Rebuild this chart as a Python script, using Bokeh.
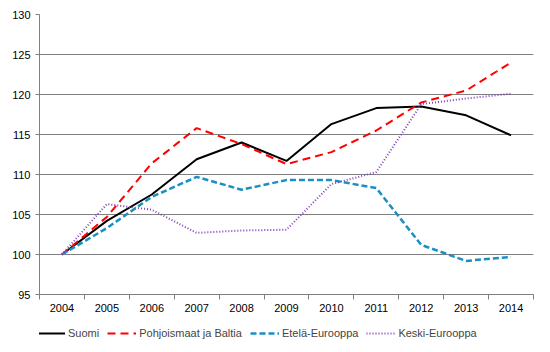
from bokeh.plotting import figure
from bokeh.models import FixedTicker, Range1d, Legend, LegendItem
from bokeh.layouts import column
from bokeh.embed import file_html
from bokeh.resources import INLINE

years = ["2004", "2005", "2006", "2007", "2008", "2009", "2010", "2011", "2012", "2013", "2014"]
suomi = [100.0, 104.2, 107.5, 111.9, 114.0, 111.7, 116.3, 118.3, 118.5, 117.4, 114.9]
pohjoismaat = [100.0, 104.7, 111.4, 115.8, 113.8, 111.3, 112.8, 115.5, 119.0, 120.5, 124.0]
etela = [100.0, 103.3, 107.2, 109.7, 108.1, 109.3, 109.3, 108.3, 101.2, 99.2, 99.7]
keski = [100.0, 106.3, 105.6, 102.7, 103.0, 103.1, 108.8, 110.3, 118.8, 119.5, 120.1]
series_names = ["Suomi", "Pohjoismaat ja Baltia", "Etelä-Eurooppa", "Keski-Eurooppa"]
y_ticks = [95, 100, 105, 110, 115, 120, 125, 130]

styles = [
    dict(line_color="black", line_width=2),
    dict(line_color="#FF0000", line_width=2, line_dash="8 5"),
    dict(line_color="#1A8FC4", line_width=2.5, line_dash="6 3"),
    dict(line_color="#7F3FBF", line_width=2, line_dash="1 2"),
]

xs = list(range(len(years)))
bounds = [i - 0.5 for i in range(len(years) + 1)]
FONT = "Liberation Sans"
all_series = [suomi, pohjoismaat, etela, keski]

p = figure(width=550, height=322, output_backend="svg", toolbar_location=None,
           x_range=Range1d(-0.5, len(years) - 0.5), y_range=Range1d(95, 130),
           min_border_left=39, min_border_right=17, min_border_top=14, min_border_bottom=28)
p.outline_line_color = None
p.background_fill_color = "white"
p.border_fill_color = "white"

# x axis
p.xaxis.ticker = FixedTicker(ticks=xs, minor_ticks=bounds)
p.xaxis.major_label_overrides = {i: y for i, y in enumerate(years)}
p.xaxis.major_tick_line_color = None
p.xaxis.minor_tick_out = 5
p.xaxis.minor_tick_in = 0
p.xaxis.minor_tick_line_color = "#808080"
p.xaxis.axis_line_color = "#808080"
p.xaxis.major_label_text_font = FONT
p.xaxis.major_label_text_font_size = "11px"
p.xaxis.major_label_text_color = "black"
p.xaxis.major_label_standoff = 3
p.xgrid.grid_line_color = None

# y axis
p.yaxis.ticker = FixedTicker(ticks=y_ticks)
p.yaxis.major_tick_out = 4
p.yaxis.major_tick_in = 0
p.yaxis.minor_tick_line_color = None
p.yaxis.major_tick_line_color = "#808080"
p.yaxis.axis_line_color = "#808080"
p.yaxis.major_label_text_font = FONT
p.yaxis.major_label_text_font_size = "11px"
p.yaxis.major_label_text_color = "black"
p.yaxis.major_label_standoff = 5
p.ygrid.grid_line_color = "#808080"
p.ygrid.grid_line_width = 1

for data, st in zip(all_series, styles):
    p.line(xs, data, **st)

# legend strip below the chart (its lines lie outside its visible range)
p2 = figure(width=550, height=30, output_backend="svg", toolbar_location=None,
            x_range=Range1d(1000, 1001), y_range=Range1d(1000, 1001),
            x_axis_type=None, y_axis_type=None, min_border=0)
p2.outline_line_color = None
p2.grid.visible = False
items = []
for name, data, st in zip(series_names, all_series, styles):
    r = p2.line(xs, data, **st)
    items.append(LegendItem(label=name, renderers=[r]))

legend = Legend(items=items, orientation="horizontal", location=(-3, 13),
                label_text_font=FONT, label_text_font_size="11px",
                glyph_width=29, glyph_height=10, label_standoff=3, spacing=8,
                padding=2, margin=0, border_line_color=None, background_fill_alpha=0)
p2.add_layout(legend, "center")

layout = column(p, p2, spacing=0)
open("out.html", "w").write(file_html(layout, INLINE))
